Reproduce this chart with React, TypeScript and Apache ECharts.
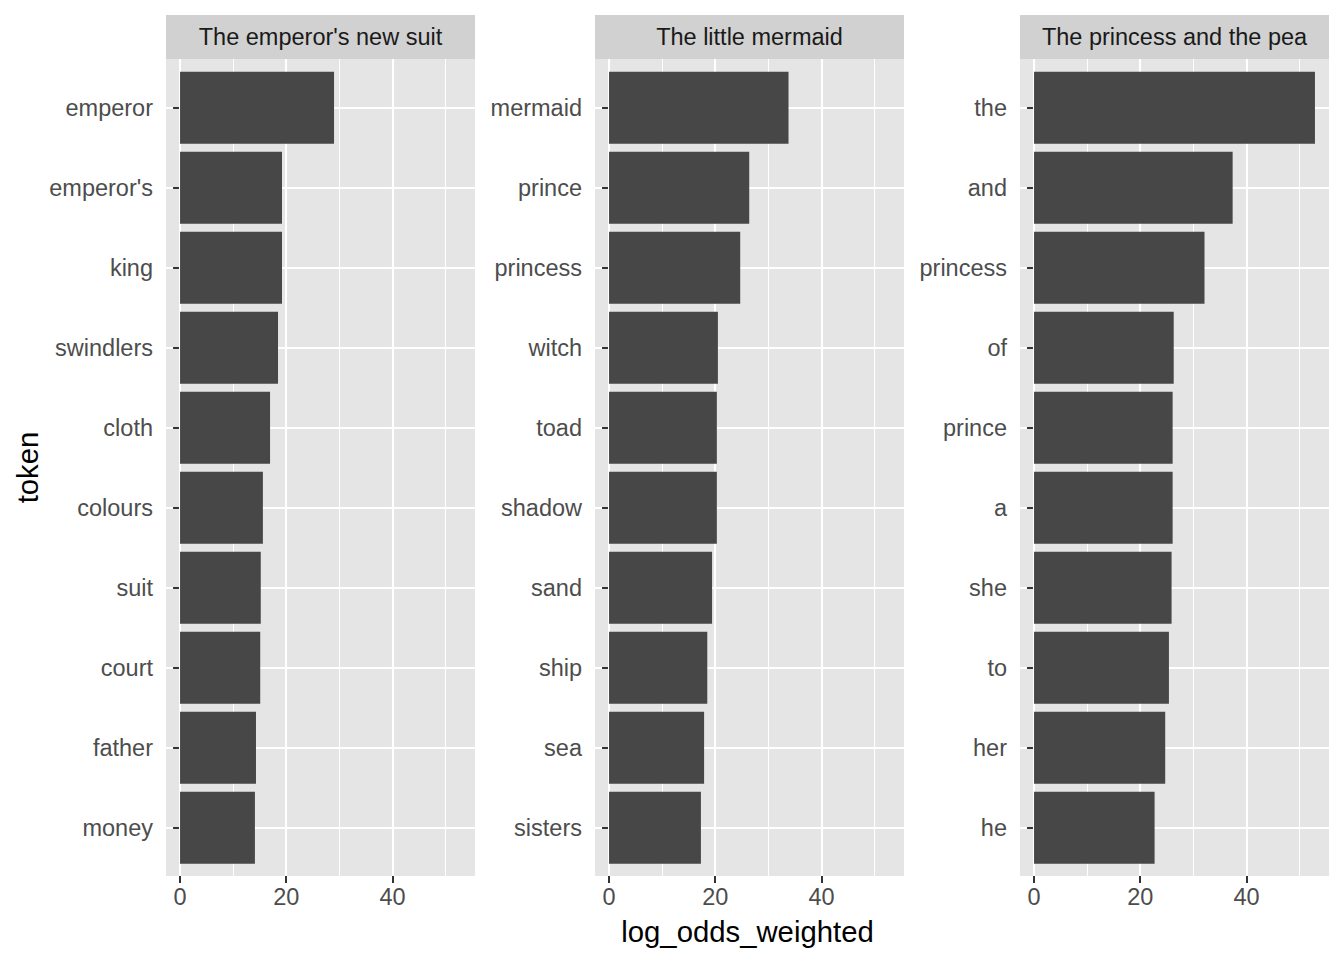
import React, { useEffect, useRef } from "react";
import * as echarts from "echarts";

const facets = ["The emperor's new suit", "The little mermaid", "The princess and the pea"];
const tokens1 = ["emperor", "emperor's", "king", "swindlers", "cloth", "colours", "suit", "court", "father", "money"];
const values1 = [29.0, 19.2, 19.2, 18.45, 16.95, 15.6, 15.2, 15.1, 14.3, 14.1];
const tokens2 = ["mermaid", "prince", "princess", "witch", "toad", "shadow", "sand", "ship", "sea", "sisters"];
const values2 = [33.8, 26.4, 24.7, 20.5, 20.3, 20.3, 19.4, 18.5, 17.9, 17.3];
const tokens3 = ["the", "and", "princess", "of", "prince", "a", "she", "to", "her", "he"];
const values3 = [52.9, 37.4, 32.1, 26.3, 26.1, 26.1, 25.9, 25.4, 24.7, 22.7];
const majorTicks = [0, 20, 40];
const minorTicks = [10, 30, 50];
const xTitle = "log_odds_weighted";
const yTitle = "token";

const FONT = "'Liberation Sans', Arial, Helvetica, sans-serif";

export default function App() {
  const ref = useRef<HTMLDivElement>(null);
  useEffect(() => {
    if (!ref.current) return;
    const chart = echarts.init(ref.current, undefined, { renderer: "svg" });
    const tokens = [tokens1, tokens2, tokens3];
    const values = [values1, values2, values3];
    const all = [...values1, ...values2, ...values3];
    const maxV = Math.max(...all);
    const xMin = -0.05 * maxV;
    const xMax = maxV * 1.05;

    const lefts = [166, 595, 1020];
    const W = 309;
    const panelTop = 59;
    const panelH = 817;
    const unit = 80;
    const innerTop = 107.8;
    const innerH = 9 * unit;

    const grids: any[] = [];
    const xAxes: any[] = [];
    const yAxes: any[] = [];
    const series: any[] = [];
    const graphics: any[] = [];

    lefts.forEach((L, i) => {
      grids.push({
        left: L, top: panelTop, width: W, height: panelH,
        show: true, backgroundColor: "#E5E5E5", borderWidth: 0,
        outerBoundsMode: "none", containLabel: false,
      });
      grids.push({
        left: L, top: innerTop, width: W, height: innerH,
        show: false, outerBoundsMode: "none", containLabel: false,
      });
      const gO = 2 * i;
      const gI = 2 * i + 1;
      xAxes.push({
        type: "value", gridIndex: gO, min: xMin, max: xMax, position: "bottom",
        axisLine: { show: false },
        axisTick: { show: true, inside: false, customValues: majorTicks, length: 7, lineStyle: { color: "#333333", width: 2 } },
        axisLabel: { show: true, inside: false, customValues: majorTicks, color: "#4D4D4D", fontSize: 23.5, fontFamily: FONT, margin: 9 },
        splitLine: { show: false },
      });
      yAxes.push({ type: "value", gridIndex: gO, min: 0, max: 1, show: false });
      xAxes.push({ type: "value", gridIndex: gI, min: xMin, max: xMax, show: false });
      yAxes.push({
        type: "category", gridIndex: gI, data: tokens[i], inverse: true, boundaryGap: false, position: "left",
        axisLine: { show: false },
        axisTick: { show: true, inside: false, interval: 0, length: 7, lineStyle: { color: "#333333", width: 2 } },
        axisLabel: { show: true, inside: false, interval: 0, color: "#4D4D4D", fontSize: 23.5, fontFamily: FONT, margin: 13 },
        splitLine: { show: true, interval: 0, lineStyle: { color: "#FFFFFF", width: 2.1 } },
      });
      series.push({
        type: "line", xAxisIndex: gO, yAxisIndex: gO, data: [], silent: true, z: 1,
        markLine: {
          silent: true, symbol: "none", animation: false, label: { show: false },
          data: [
            ...majorTicks.map((v) => ({ xAxis: v, lineStyle: { color: "#FFFFFF", width: 2.1, type: "solid" } })),
            ...minorTicks.map((v) => ({ xAxis: v, lineStyle: { color: "#FFFFFF", width: 1.07, type: "solid" } })),
          ],
        },
      });
      series.push({
        type: "bar", xAxisIndex: gI, yAxisIndex: gI, data: values[i], barWidth: unit * 0.9,
        itemStyle: { color: "#474747" }, clip: false, z: 5, silent: true,
      });
      graphics.push({
        type: "rect", shape: { x: L, y: 15, width: W, height: panelTop - 15 },
        style: { fill: "#D1D1D1" }, silent: true,
      });
      graphics.push({
        type: "text", x: L + W / 2, y: (15 + panelTop) / 2,
        style: { text: facets[i], fill: "#1A1A1A", fontSize: 23.5, fontFamily: FONT, align: "center", verticalAlign: "middle" },
        silent: true,
      });
    });

    graphics.push({
      type: "text", x: (lefts[0] + lefts[2] + W) / 2, y: 931,
      style: { text: xTitle, fill: "#000000", fontSize: 29.3, fontFamily: FONT, align: "center", verticalAlign: "middle" },
      silent: true,
    });
    graphics.push({
      type: "text", x: 27, y: panelTop + panelH / 2, rotation: Math.PI / 2,
      style: { text: yTitle, fill: "#000000", fontSize: 29.3, fontFamily: FONT, align: "center", verticalAlign: "middle" },
      silent: true,
    });

    chart.setOption({
      animation: false,
      backgroundColor: "#FFFFFF",
      textStyle: { fontFamily: FONT },
      grid: grids,
      xAxis: xAxes,
      yAxis: yAxes,
      series,
      graphic: graphics,
    });
    return () => chart.dispose();
  }, []);
  return (
    <div
      ref={ref}
      style={{ position: "fixed", left: 0, top: 0, width: 1344, height: 960, background: "#FFFFFF" }}
    />
  );
}
